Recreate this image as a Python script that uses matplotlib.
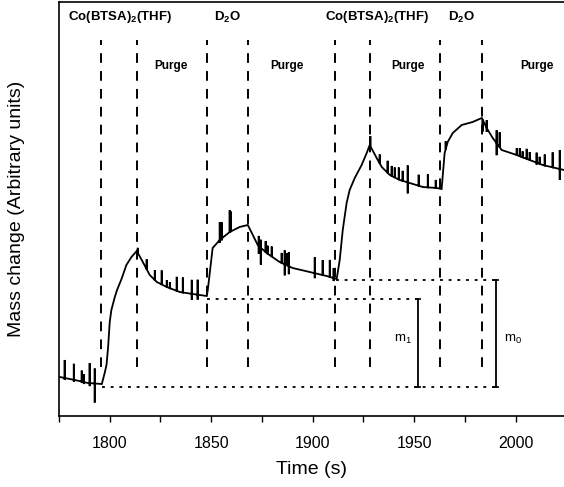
import numpy as np
import matplotlib
matplotlib.use("Agg")
import matplotlib.pyplot as plt
from matplotlib.ticker import MultipleLocator, NullLocator

plt.rcParams["font.family"] = ["Liberation Sans", "DejaVu Sans"]
plt.rcParams["mathtext.fontset"] = "custom"
plt.rcParams["mathtext.rm"] = "Liberation Sans"
plt.rcParams["mathtext.bf"] = "Liberation Sans:bold"
plt.rcParams["mathtext.it"] = "Liberation Sans:italic"

# baseline mass trace (time s, arbitrary units)
curve_t = [1775.4, 1782.8, 1789.2, 1796.1, 1797.5, 1798.4, 1799.2, 1800.0, 1800.8,
           1802.5, 1803.6, 1805.8, 1808.2, 1810.7, 1813.3,
           1816.3, 1819.7, 1823.2, 1828.1, 1834.5, 1840.9, 1847.8,
           1848.3, 1850.7, 1854.2, 1859.1, 1864.0, 1868.0,
           1870.0, 1872.9, 1877.3, 1883.7, 1890.1, 1898.5, 1906.9, 1911.8,
           1913.3, 1914.8, 1916.7, 1918.2, 1920.7, 1924.1, 1926.6, 1928.1,
           1931.5, 1934.0, 1938.0, 1942.9, 1947.8, 1954.2, 1961.1, 1963.5,
           1964.0, 1965.0, 1966.5, 1969.0, 1973.4, 1978.8, 1983.3,
           1985.7, 1988.7, 1993.1, 2000.5, 2006.9, 2013.3, 2023.8]
curve_y = [40, 37, 34, 33, 44, 52, 70, 95, 107,
           120, 127, 138, 152, 160, 166,
           155, 142, 135, 130, 125, 123, 121,
           127, 169, 177, 185, 190, 192,
           184, 172, 164, 155, 149, 145, 141, 138,
           157, 187, 214, 227, 239, 252, 264, 272,
           259, 250, 242, 237, 234, 230, 229, 228,
           240, 264, 275, 284, 292, 295, 299,
           289, 279, 267, 262, 257, 252, 247]

# pressure spikes: time, excursion up, excursion down
spike_t = [1777.8, 1782.3, 1786.2, 1787.2, 1790.1, 1792.6,
           1813.8, 1818.2, 1822.2, 1825.6, 1828.1, 1829.6, 1833.0, 1836.0, 1840.4, 1843.3,
           1854.2, 1855.2, 1859.1, 1859.6,
           1873.4, 1874.4, 1876.8, 1877.8, 1879.8, 1884.7, 1886.2, 1887.2, 1888.2,
           1901.0, 1904.9, 1908.4, 1910.3,
           1928.4, 1933.0, 1936.9, 1938.9, 1940.4, 1942.4, 1944.3, 1946.8, 1952.2, 1956.7, 1960.6,
           1965.5, 1983.7, 1985.7, 1990.6, 1992.1, 2000.5, 2002.0, 2003.4, 2005.4, 2006.9,
           2010.3, 2011.8, 2014.3, 2018.2, 2021.7]
spike_up = [18, 16, 11, 8, 20, 15,
            5, 10, 10, 14, 7, 6, 14, 15, 14, 15,
            18, 16, 22, 20,
            10, 8, 11, 8, 10, 10, 14, 12, 14,
            16, 15, 17, 10,
            10, 9, 12, 10, 10, 12, 10, 17, 11, 13, 8,
            8, 0, 8, 13, 15, 7, 8, 6, 10, 8,
            10, 7, 11, 15, 19]
spike_dn = [2, 2, 1, 2, 3, 19,
            0, 0, 0, 0, 0, 0, 0, 0, 6, 5,
            3, 2, 0, 0,
            8, 17, 0, 0, 0, 0, 11, 0, 8,
            5, 0, 0, 3,
            0, 0, 0, 0, 0, 0, 0, 11, 0, 0, 0,
            0, 12, 4, 12, 0, 0, 0, 0, 0, 0,
            2, 0, 0, 0, 11]

# valve switching times
switch_t = [1795.6, 1813.3, 1847.8, 1868.0, 1910.8, 1928.1, 1962.6, 1983.3]

# step labels along the top
step_labels = [r"Co(BTSA)$_\mathbf{2}$(THF)", r"D$_\mathbf{2}$O",
               r"Co(BTSA)$_\mathbf{2}$(THF)", r"D$_\mathbf{2}$O"]
step_x = [1805.3, 1858.2, 1931.5, 1973.4]
purge_x = [1830.0, 1887.2, 1946.8, 2010.3]

# reference levels and mass gains
lvl_start = 30
lvl_cycle1 = 118
lvl_cycle2 = 137
m1_t = 1951.7
m0_t = 1990.1


def build_trace():
    t = list(curve_t)
    y = list(curve_y)
    for st, up, dn in zip(spike_t, spike_up, spike_dn):
        y0 = float(np.interp(st, curve_t, curve_y))
        t += [st, st, st, st]
        y += [y0, y0 + up, y0 - dn, y0]
    order = np.argsort(np.array(t), kind="stable")
    return np.array(t)[order], np.array(y)[order]


fig = plt.figure(figsize=(5.64, 4.87), dpi=100)
ax = fig.add_axes([59 / 564, 71 / 487, 505 / 564, 414 / 487])

tt, yy = build_trace()
ax.plot(tt, yy, color="black", lw=1.3, solid_joinstyle="miter")

for xs in switch_t:
    ax.plot([xs, xs], [50, 377], color="black", lw=1.4, dashes=(5.0, 4.2))

dot = (1.6, 3.2)
ax.plot([1796.0, m0_t], [lvl_start, lvl_start], color="black", lw=1.3, dashes=dot)
ax.plot([1848.0, m1_t], [lvl_cycle1, lvl_cycle1], color="black", lw=1.3, dashes=dot)
ax.plot([1911.5, m0_t], [lvl_cycle2, lvl_cycle2], color="black", lw=1.3, dashes=dot)

for xm, ytop in [(m1_t, lvl_cycle1), (m0_t, lvl_cycle2)]:
    ax.plot([xm, xm], [lvl_start, ytop], color="black", lw=1.3)
    ax.plot([xm, xm], [lvl_start, ytop], ls="none", marker="_", ms=4,
            mew=1.2, color="black")

ax.text(1944.3, 78, r"m$_1$", fontsize=9.5, ha="center", va="center")
ax.text(1998.5, 78, r"m$_0$", fontsize=9.5, ha="center", va="center")

for lab, xs in zip(step_labels, step_x):
    ax.text(xs, 400, lab, fontsize=9.5, fontweight="bold", ha="center", va="center")
for xs in purge_x:
    ax.text(xs, 351, "Purge", fontsize=8.5, fontweight="bold", ha="center", va="center")

ax.set_xlim(1775, 2023.8)
ax.set_ylim(1, 415)
ax.xaxis.set_major_locator(MultipleLocator(50))
ax.xaxis.set_minor_locator(MultipleLocator(25))
ax.yaxis.set_major_locator(NullLocator())
ax.tick_params(axis="x", which="both", direction="out", length=4.5, width=1.0,
               labelsize=11.5, pad=10)
ax.spines["right"].set_visible(False)
for s in ["left", "bottom", "top"]:
    ax.spines[s].set_linewidth(1.2)

ax.set_xlabel("Time (s)", fontsize=14)
ax.set_ylabel("Mass change (Arbitrary units)", fontsize=14)
ax.xaxis.set_label_coords(0.5, -0.108)
ax.yaxis.set_label_coords(-0.068, 0.5)

fig.savefig("out.png", dpi=100)
